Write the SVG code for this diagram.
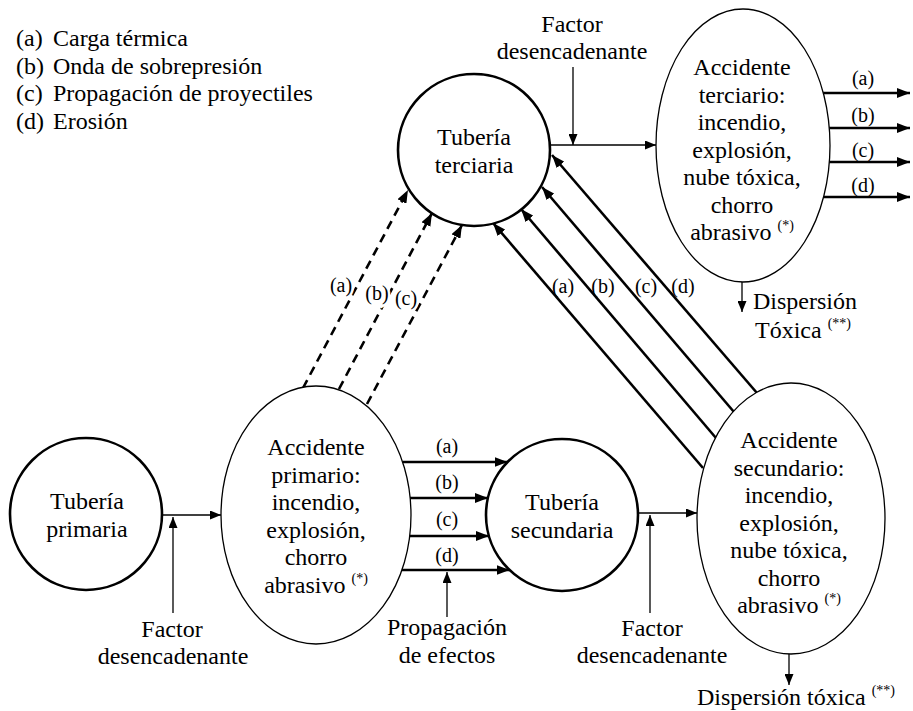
<svg xmlns="http://www.w3.org/2000/svg" width="913" height="711" viewBox="0 0 913 711" font-family="Liberation Serif">
  <style>
    text, tspan { font-family: "Liberation Serif", "Times New Roman", serif !important; }
  </style>
  <defs>
    <marker id="head" markerUnits="userSpaceOnUse" markerWidth="11" markerHeight="9" refX="11" refY="4.5" orient="auto">
      <path d="M0,0 L11,4.5 L0,9 z" fill="#000"/>
    </marker>
    <marker id="headBold" markerUnits="userSpaceOnUse" markerWidth="13" markerHeight="10" refX="13" refY="5" orient="auto">
      <path d="M0,0 L13,5 L0,10 z" fill="#000"/>
    </marker>
  </defs>

  <rect width="913" height="711" fill="#fff"/>

  <!-- legend -->
  <g id="legend">
    <text style="font-family:'Liberation Serif',serif" font-size="24" x="16" y="46">(a)</text><text style="font-family:'Liberation Serif',serif" font-size="24" x="53" y="46">Carga térmica</text>
    <text style="font-family:'Liberation Serif',serif" font-size="24" x="16" y="73.5">(b)</text><text style="font-family:'Liberation Serif',serif" font-size="24" x="53" y="73.5">Onda de sobrepresión</text>
    <text style="font-family:'Liberation Serif',serif" font-size="24" x="16" y="101">(c)</text><text style="font-family:'Liberation Serif',serif" font-size="24" x="53" y="101">Propagación de proyectiles</text>
    <text style="font-family:'Liberation Serif',serif" font-size="24" x="16" y="128.5">(d)</text><text style="font-family:'Liberation Serif',serif" font-size="24" x="53" y="128.5">Erosión</text>
  </g>

  <!-- connectors -->
  <g id="connectors" fill="none" stroke="#000">
    <!-- thin arrows: pipe to accident, triggering factors, effects, dispersion -->
    <g stroke-width="1.3" marker-end="url(#head)">
      <path d="M162,515 H221"/>
      <path d="M173,613 V517"/>
      <path d="M638,513 H697"/>
      <path d="M650,613 V515"/>
      <path d="M550,145 H656"/>
      <path d="M573,67 V145"/>
      <path d="M447,617 V572"/>
      <path d="M742,282 V312"/>
      <path d="M789,654 V685"/>
    </g>

    <!-- bold arrows -->
    <g stroke-width="2.6" marker-end="url(#headBold)">
      <!-- primary accident to secondary pipe -->
      <path d="M402.6,462 H507.5"/>
      <path d="M410,498 H488"/>
      <path d="M409.7,536 H489"/>
      <path d="M402,570 H509.6"/>
      <!-- secondary accident to tertiary pipe -->
      <path d="M703,468 L493,223"/>
      <path d="M716,438 L521,209"/>
      <path d="M734,412 L542,187"/>
      <path d="M757,393 L552,155"/>
      <!-- tertiary accident outputs -->
      <path d="M823,93 H910"/>
      <path d="M829,128 H910"/>
      <path d="M829,162 H910"/>
      <path d="M823.5,197 H910"/>
    </g>

    <!-- primary accident to tertiary pipe (dashed) -->
    <g stroke-width="2.6" stroke-dasharray="9 6" marker-end="url(#headBold)">
      <path d="M303,388 L408,190"/>
      <path d="M339,389 L432,213"/>
      <path d="M367,404 L462,225"/>
    </g>
  </g>

  <!-- connector labels -->
  <g id="labels">
    <text style="font-family:'Liberation Serif',serif" font-size="20" text-anchor="middle" x="447" y="453">(a)</text>
    <text style="font-family:'Liberation Serif',serif" font-size="20" text-anchor="middle" x="447" y="489">(b)</text>
    <text style="font-family:'Liberation Serif',serif" font-size="20" text-anchor="middle" x="447" y="526">(c)</text>
    <text style="font-family:'Liberation Serif',serif" font-size="20" text-anchor="middle" x="447" y="562">(d)</text>

    <text style="font-family:'Liberation Serif',serif" font-size="20" text-anchor="middle" stroke="#fff" stroke-width="5" paint-order="stroke" x="341" y="292">(a)</text>
    <text style="font-family:'Liberation Serif',serif" font-size="20" text-anchor="middle" stroke="#fff" stroke-width="5" paint-order="stroke" x="377" y="300">(b)</text>
    <text style="font-family:'Liberation Serif',serif" font-size="20" text-anchor="middle" stroke="#fff" stroke-width="5" paint-order="stroke" x="406" y="305">(c)</text>

    <text style="font-family:'Liberation Serif',serif" font-size="20" text-anchor="middle" x="563" y="293">(a)</text>
    <text style="font-family:'Liberation Serif',serif" font-size="20" text-anchor="middle" x="603" y="293">(b)</text>
    <text style="font-family:'Liberation Serif',serif" font-size="20" text-anchor="middle" x="646" y="293">(c)</text>
    <text style="font-family:'Liberation Serif',serif" font-size="20" text-anchor="middle" x="683" y="293">(d)</text>

    <text style="font-family:'Liberation Serif',serif" font-size="20" text-anchor="middle" x="863" y="85">(a)</text>
    <text style="font-family:'Liberation Serif',serif" font-size="20" text-anchor="middle" x="863" y="122">(b)</text>
    <text style="font-family:'Liberation Serif',serif" font-size="20" text-anchor="middle" x="863" y="157">(c)</text>
    <text style="font-family:'Liberation Serif',serif" font-size="20" text-anchor="middle" x="863" y="192">(d)</text>

    <text style="font-family:'Liberation Serif',serif" font-size="24" text-anchor="middle" x="172" y="637">Factor</text>
    <text style="font-family:'Liberation Serif',serif" font-size="24" text-anchor="middle" x="173" y="664">desencadenante</text>
    <text style="font-family:'Liberation Serif',serif" font-size="24" text-anchor="middle" x="652" y="636">Factor</text>
    <text style="font-family:'Liberation Serif',serif" font-size="24" text-anchor="middle" x="652" y="663">desencadenante</text>
    <text style="font-family:'Liberation Serif',serif" font-size="24" text-anchor="middle" x="572" y="32">Factor</text>
    <text style="font-family:'Liberation Serif',serif" font-size="24" text-anchor="middle" x="572" y="59">desencadenante</text>
    <text style="font-family:'Liberation Serif',serif" font-size="24" text-anchor="middle" x="447" y="635">Propagación</text>
    <text style="font-family:'Liberation Serif',serif" font-size="24" text-anchor="middle" x="447" y="663">de efectos</text>

    <text style="font-family:'Liberation Serif',serif" font-size="24" x="753" y="309">Dispersión</text>
    <text style="font-family:'Liberation Serif',serif" font-size="24" x="755" y="338">Tóxica <tspan font-size="14" dy="-10">(**)</tspan></text>
    <text style="font-family:'Liberation Serif',serif" font-size="24" x="697" y="705">Dispersión tóxica <tspan font-size="14" dy="-10">(**)</tspan></text>
  </g>

  <!-- nodes -->
  <g id="tuberia-primaria">
    <circle cx="86" cy="514" r="76" fill="#fff" stroke="#000" stroke-width="2.6"/>
    <text style="font-family:'Liberation Serif',serif" font-size="24" text-anchor="middle" x="87" y="509">Tubería</text>
    <text style="font-family:'Liberation Serif',serif" font-size="24" text-anchor="middle" x="87" y="537">primaria</text>
  </g>

  <g id="accidente-primario">
    <ellipse cx="316" cy="515" rx="95" ry="129" fill="#fff" stroke="#000" stroke-width="1.3"/>
    <text style="font-family:'Liberation Serif',serif" font-size="24" text-anchor="middle" x="316" y="455">Accidente</text>
    <text style="font-family:'Liberation Serif',serif" font-size="24" text-anchor="middle" x="316" y="482.5">primario:</text>
    <text style="font-family:'Liberation Serif',serif" font-size="24" text-anchor="middle" x="316" y="510">incendio,</text>
    <text style="font-family:'Liberation Serif',serif" font-size="24" text-anchor="middle" x="316" y="537.5">explosión,</text>
    <text style="font-family:'Liberation Serif',serif" font-size="24" text-anchor="middle" x="316" y="565">chorro</text>
    <text style="font-family:'Liberation Serif',serif" font-size="24" text-anchor="middle" x="316" y="592.5">abrasivo <tspan font-size="14" dy="-10">(*)</tspan></text>
  </g>

  <g id="tuberia-secundaria">
    <circle cx="562" cy="515" r="76" fill="#fff" stroke="#000" stroke-width="2.6"/>
    <text style="font-family:'Liberation Serif',serif" font-size="24" text-anchor="middle" x="562" y="510">Tubería</text>
    <text style="font-family:'Liberation Serif',serif" font-size="24" text-anchor="middle" x="562" y="538">secundaria</text>
  </g>

  <g id="accidente-secundario">
    <ellipse cx="791" cy="518.5" rx="94" ry="135.5" fill="#fff" stroke="#000" stroke-width="1.3"/>
    <text style="font-family:'Liberation Serif',serif" font-size="24" text-anchor="middle" x="789" y="448">Accidente</text>
    <text style="font-family:'Liberation Serif',serif" font-size="24" text-anchor="middle" x="789" y="475.5">secundario:</text>
    <text style="font-family:'Liberation Serif',serif" font-size="24" text-anchor="middle" x="789" y="503">incendio,</text>
    <text style="font-family:'Liberation Serif',serif" font-size="24" text-anchor="middle" x="789" y="530.5">explosión,</text>
    <text style="font-family:'Liberation Serif',serif" font-size="24" text-anchor="middle" x="789" y="558">nube tóxica,</text>
    <text style="font-family:'Liberation Serif',serif" font-size="24" text-anchor="middle" x="789" y="585.5">chorro</text>
    <text style="font-family:'Liberation Serif',serif" font-size="24" text-anchor="middle" x="789" y="613">abrasivo <tspan font-size="14" dy="-10">(*)</tspan></text>
  </g>

  <g id="tuberia-terciaria">
    <circle cx="474" cy="150" r="76" fill="#fff" stroke="#000" stroke-width="2.6"/>
    <text style="font-family:'Liberation Serif',serif" font-size="24" text-anchor="middle" x="474" y="145">Tubería</text>
    <text style="font-family:'Liberation Serif',serif" font-size="24" text-anchor="middle" x="474" y="173">terciaria</text>
  </g>

  <g id="accidente-terciario">
    <ellipse cx="743" cy="145.5" rx="87" ry="136.5" fill="#fff" stroke="#000" stroke-width="1.3"/>
    <text style="font-family:'Liberation Serif',serif" font-size="24" text-anchor="middle" x="742" y="75">Accidente</text>
    <text style="font-family:'Liberation Serif',serif" font-size="24" text-anchor="middle" x="742" y="102.5">terciario:</text>
    <text style="font-family:'Liberation Serif',serif" font-size="24" text-anchor="middle" x="742" y="130">incendio,</text>
    <text style="font-family:'Liberation Serif',serif" font-size="24" text-anchor="middle" x="742" y="157.5">explosión,</text>
    <text style="font-family:'Liberation Serif',serif" font-size="24" text-anchor="middle" x="742" y="185">nube tóxica,</text>
    <text style="font-family:'Liberation Serif',serif" font-size="24" text-anchor="middle" x="742" y="212.5">chorro</text>
    <text style="font-family:'Liberation Serif',serif" font-size="24" text-anchor="middle" x="742" y="240">abrasivo <tspan font-size="14" dy="-10">(*)</tspan></text>
  </g>
</svg>
